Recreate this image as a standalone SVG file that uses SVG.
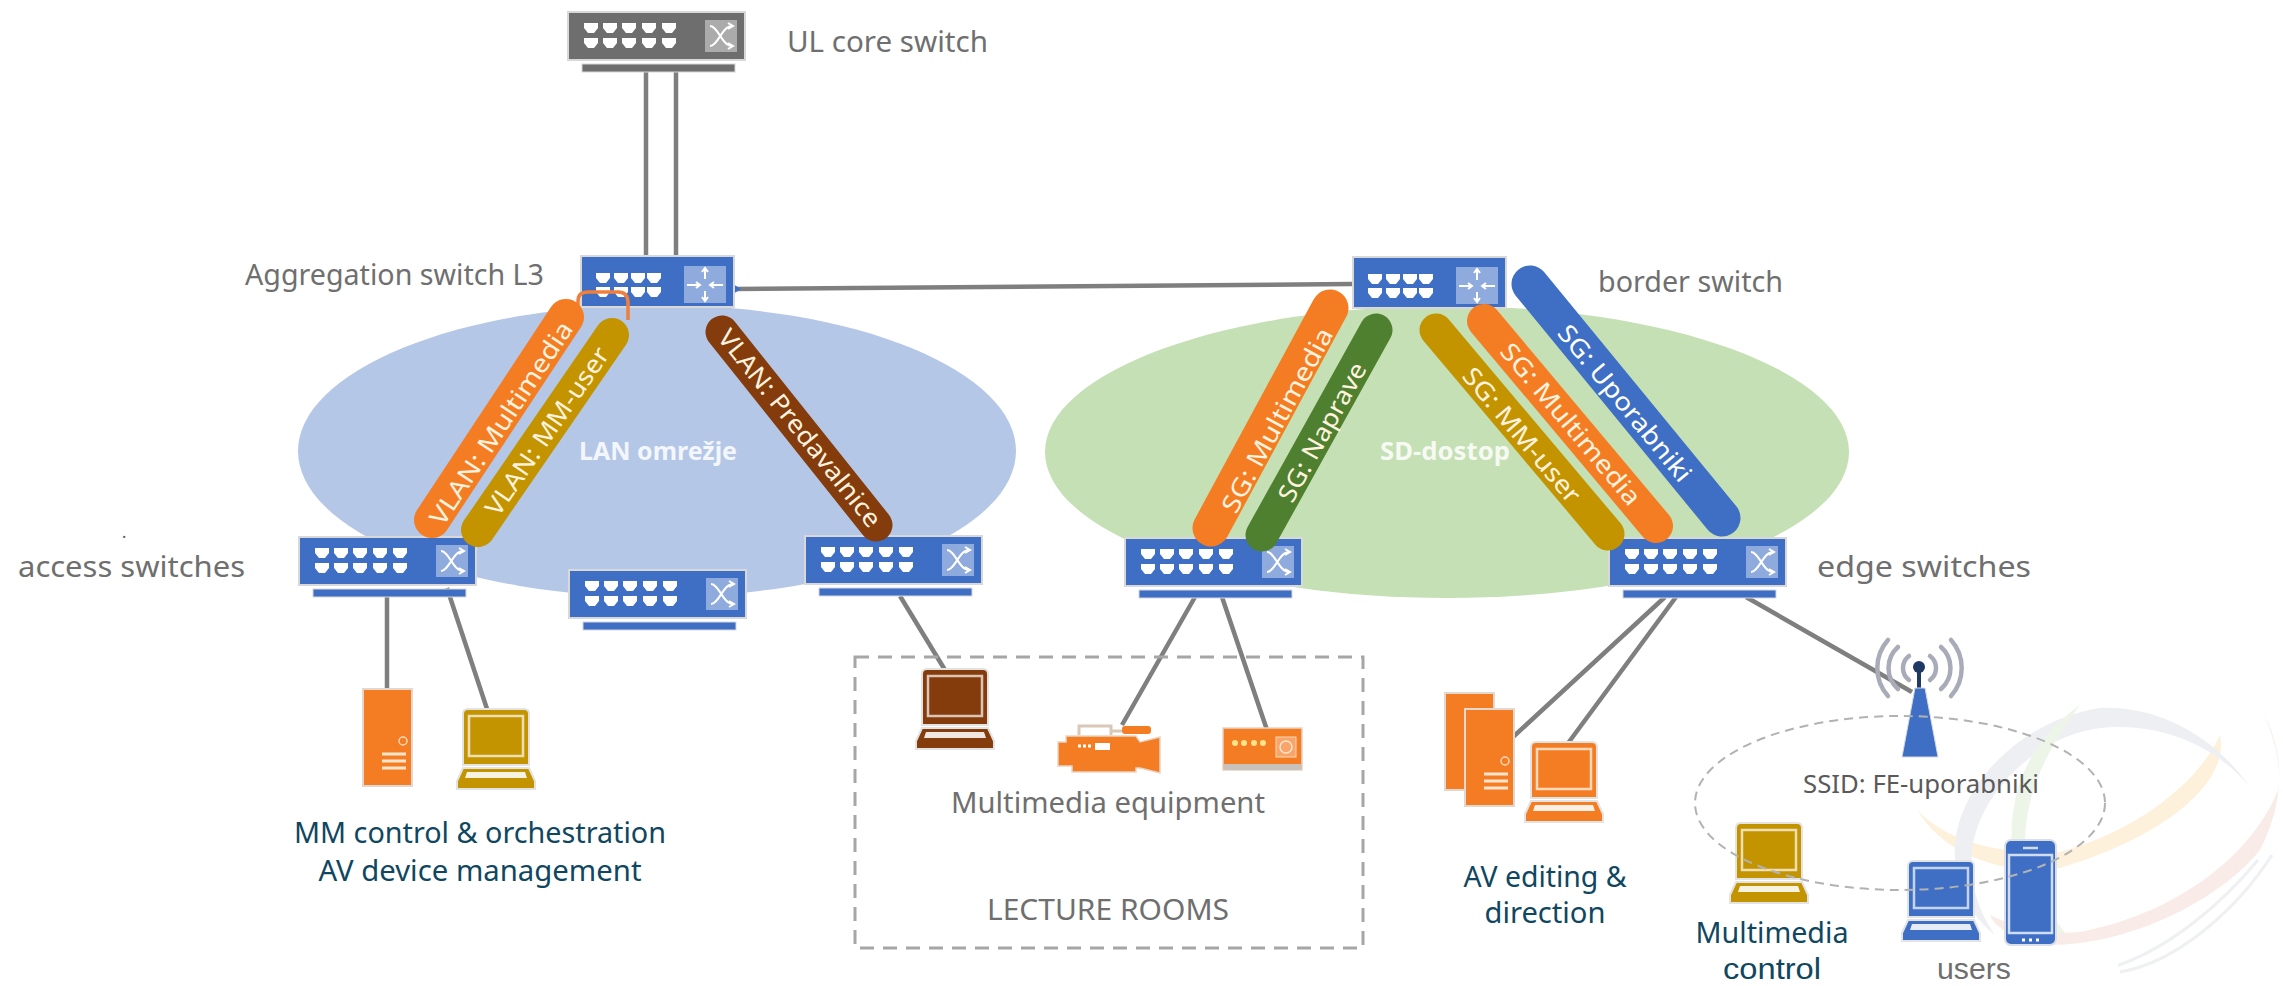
<svg xmlns="http://www.w3.org/2000/svg" xmlns:xlink="http://www.w3.org/1999/xlink" width="2283" height="986" viewBox="0 0 2283 986">
<style>
text{font-family:"Noto Sans","Liberation Sans",sans-serif}
.g{fill:#6f6f6f;font-size:29px}
.t{fill:#0f4761;font-size:29px}
.p{fill:#fff;font-size:25px;text-anchor:middle}
.c{fill:#fff3df;font-size:25px;text-anchor:middle}
.m{text-anchor:middle}
.low{font-family:"Liberation Sans",sans-serif}
.net{fill:#fff;font-size:25px;font-weight:700;text-anchor:middle;opacity:.85}
.link{stroke:#7f7f7f;stroke-width:4.5;fill:none}
.pill{fill:none;stroke-linecap:round}
.wave{stroke:#a9abb8;stroke-width:4.5;fill:none;stroke-linecap:round}
</style>
<defs>
<path id="port" d="M0 0h14v5l-4 5h-6l-4-5z" fill="#fff"/>
<g id="ports5"><use href="#port" x="16"/><use href="#port" x="35"/><use href="#port" x="54"/><use href="#port" x="74"/><use href="#port" x="94"/></g>
<g id="sw">
<rect x="14" y="52" width="153" height="8" fill="currentColor" stroke="#d8d8d8" stroke-width="1"/>
<rect width="177" height="48" fill="currentColor" stroke="#d8d8d8" stroke-width="2"/>
<use href="#ports5" y="11"/><use href="#ports5" y="26"/>
<rect x="137" y="8" width="32" height="32" fill="#fff" opacity=".42"/>
<path d="M142 14c8 0 12 20 22 20M142 34c8 0 12-20 22-20M160 11l5 3-5 3M160 31l5 3-5 3" fill="none" stroke="#fff" stroke-width="2"/>
</g>
<g id="rt">
<rect width="153" height="51" fill="#3f6fc4" stroke="#d8d8d8" stroke-width="2"/>
<g id="rp"><use href="#port" x="15" y="17"/><use href="#port" x="33" y="17"/><use href="#port" x="50" y="17"/><use href="#port" x="66" y="17"/>
<use href="#port" x="15" y="31"/><use href="#port" x="33" y="31"/><use href="#port" x="50" y="31"/><use href="#port" x="66" y="31"/></g>
<rect x="103" y="10" width="42" height="37" fill="#fff" opacity=".42"/>
<path d="M124 12v11M124 35v10M106 29h13M142 29h-13M121 16l3-4 3 4M121 41l3 4 3-4M115 26l4 3-4 3M133 26l-4 3 4 3" fill="none" stroke="#fff" stroke-width="2"/>
</g>
<g id="laptop">
<path d="M11 0h56q5 0 5 5v51H6V5q0-5 5-5z" fill="currentColor" stroke="#e3e3e3" stroke-width="2"/>
<rect x="12" y="7" width="54" height="40" fill="none" stroke="#fff" stroke-opacity=".7" stroke-width="2.5"/>
<path d="M6 59h66l6 13v8H0v-8z" fill="currentColor" stroke="#e3e3e3" stroke-width="2"/>
<path d="M10 63h58l2 6H8z" fill="#fff" opacity=".88"/>
</g>
<g id="server">
<rect width="49" height="97" fill="#f47d23" stroke="#e2d8d0" stroke-width="2"/>
<circle cx="40" cy="52" r="4" fill="none" stroke="#fbd9b8" stroke-width="1.5"/>
<path d="M19 65h24M19 72h24M19 79h24" stroke="#fde6d0" stroke-width="3"/>
</g>
</defs>
<rect width="2283" height="986" fill="#fff"/>
<g id="watermark">
<path d="M2220 735C2230 780 2170 835 2060 868C2000 875 1945 855 1917 810C1950 845 2010 855 2060 852C2140 830 2200 780 2220 735Z" fill="#fdf1dc"/>
<path d="M2250 787C2210 730 2150 705 2100 708C2020 720 1950 790 1955 860C1958 890 1970 915 1995 935C1975 905 1970 880 1972 850C1980 790 2040 735 2100 728C2160 722 2215 745 2250 787Z" fill="#eeeff3"/>
<path d="M2080 705C2030 740 2008 790 2012 850C2015 890 2040 925 2075 945C2050 915 2025 880 2025 845C2025 790 2050 745 2080 705Z" fill="#edf4e8"/>
<path d="M2262 710C2285 760 2285 800 2260 850C2220 900 2130 945 2050 945C2020 940 1995 930 1990 915C2020 930 2050 935 2080 932C2170 915 2250 860 2278 790C2282 760 2275 735 2262 710Z" fill="#f9ece8"/>
<path d="M2120 972C2180 962 2240 905 2272 855M2110 968C2170 950 2225 900 2258 860" fill="none" stroke="#eef0f2" stroke-width="3"/>
<rect x="1982" y="945" width="136" height="41" fill="#fff"/>
</g>
<g id="net-lan"><ellipse cx="657" cy="451" rx="359" ry="146" fill="#b4c7e7"/></g>
<g id="net-sd"><ellipse cx="1447" cy="452" rx="402" ry="146" fill="#c5e0b4"/></g>
<g id="connectors">
<path class="link" d="M646 71V256M676 71V256"/>
<path class="link" d="M734 289L1352 284"/>
<path d="M733 284l8 5-8 5z" fill="#3f6fc4"/>
<path class="link" d="M387 596V690M447 588L490 718"/>
<path class="link" d="M900 596L945 670"/>
<path class="link" d="M1195 597L1122 725M1222 597L1267 730"/>
<path class="link" d="M1665 597L1513 737M1676 597L1563 750M1746 597L1912 692"/>
</g>
<g id="core-switch"><use href="#sw" x="568" y="12" color="#6e6e6e"/></g>
<g id="agg-switch"><use href="#rt" x="581" y="256"/></g>
<g id="border-switch"><use href="#rt" x="1353" y="257"/></g>
<g id="access-1"><use href="#sw" x="299" y="537" color="#3f6fc4"/></g>
<g id="access-2"><use href="#sw" x="569" y="570" color="#3f6fc4"/></g>
<g id="access-3"><use href="#sw" x="805" y="536" color="#3f6fc4"/></g>
<g id="edge-1"><use href="#sw" x="1125" y="538" color="#3f6fc4"/></g>
<g id="edge-2"><use href="#sw" x="1609" y="538" color="#3f6fc4"/></g>
<g id="lan-loop"><path d="M578 307v-6q0-9 10-9h30q10 0 10 11v17" fill="none" stroke="#ef7f3d" stroke-width="3.5"/></g>
<g id="vlan-segments">
<path class="pill" d="M566 317L432 520" stroke="#f47d23" stroke-width="36"/>
<path class="pill" d="M612 335L478 530" stroke="#c39400" stroke-width="34"/>
<path class="pill" d="M722 332L876 525" stroke="#843c0c" stroke-width="33"/>
<text class="c" transform="translate(501 423) rotate(-56.6)" y="9" textLength="238" lengthAdjust="spacingAndGlyphs">VLAN: Multimedia</text>
<text class="c" transform="translate(547 431) rotate(-55.5)" y="9" textLength="198" lengthAdjust="spacingAndGlyphs">VLAN: MM-user</text>
<text class="c" transform="translate(800 428) rotate(51.4)" y="9" textLength="245" lengthAdjust="spacingAndGlyphs">VLAN: Predavalnice</text>
</g>
<g id="sg-segments">
<path class="pill" d="M1330 308L1211 528" stroke="#f47d23" stroke-width="37"/>
<path class="pill" d="M1376 330L1262 535" stroke="#4f8030" stroke-width="33"/>
<path class="pill" d="M1436 330L1608 534" stroke="#c39400" stroke-width="33"/>
<path class="pill" d="M1484 321L1656 526" stroke="#f47d23" stroke-width="34"/>
<path class="pill" d="M1530 284L1722 518" stroke="#3f6fc4" stroke-width="37"/>
<text class="c" transform="translate(1277 420) rotate(-61.6)" y="9" textLength="206" lengthAdjust="spacingAndGlyphs">SG: Multimedia</text>
<text class="c" transform="translate(1322 432) rotate(-61)" y="9" textLength="155" lengthAdjust="spacingAndGlyphs">SG: Naprave</text>
<text class="c" transform="translate(1522 435) rotate(49.9)" y="9" textLength="168" lengthAdjust="spacingAndGlyphs">SG: MM-user</text>
<text class="c" transform="translate(1571 424) rotate(50)" y="9" textLength="203" lengthAdjust="spacingAndGlyphs">SG: Multimedia</text>
<text class="p" transform="translate(1625 403) rotate(50.6)" y="9" textLength="195" lengthAdjust="spacingAndGlyphs">SG: Uporabniki</text>
</g>
<text class="net" x="658" y="460" textLength="158" lengthAdjust="spacingAndGlyphs">LAN omrežje</text>
<text class="net" x="1445" y="460" textLength="130" lengthAdjust="spacingAndGlyphs">SD-dostop</text>
<g id="server-control"><use href="#server" x="363" y="689"/></g>
<g id="laptop-control"><use href="#laptop" x="457" y="709" color="#c39400"/></g>
<g id="laptop-room"><use href="#laptop" x="916" y="669" color="#843c0c"/></g>
<g id="camera">
<path d="M1079 735v-9h32v9M1111 731h11" fill="none" stroke="#d9c8b8" stroke-width="3"/>
<rect x="1122" y="726" width="29" height="8" rx="3" fill="#f47d23"/>
<path d="M1066 736h70l4 6 20-5v36l-20-5-4 0v4h-64v-6h-14v-24h8z" fill="#f47d23" stroke="#e8d5c4" stroke-width="1.5"/>
<rect x="1095" y="743" width="15" height="7" fill="#fff"/>
<path d="M1078 746h13" stroke="#fff" stroke-width="3" stroke-dasharray="3 2"/>
</g>
<g id="encoder">
<rect x="1223" y="728" width="79" height="42" fill="#f47d23" stroke="#e5d5c8" stroke-width="1.5"/>
<rect x="1224" y="764" width="77" height="6" fill="#c9c2bb"/>
<circle cx="1235" cy="743" r="3" fill="#ffe58a"/><circle cx="1244" cy="743" r="3" fill="#ffe58a"/><circle cx="1254" cy="743" r="3" fill="#ffe58a"/><circle cx="1263" cy="743" r="3" fill="#ffe58a"/>
<rect x="1276" y="737" width="20" height="20" fill="#f9a468" stroke="#fbd9b8"/>
<circle cx="1286" cy="747" r="6" fill="none" stroke="#fde6d0" stroke-width="1.5"/>
</g>
<g id="server-edit"><use href="#server" x="1445" y="693"/><use href="#server" x="1465" y="709"/></g>
<g id="laptop-edit"><use href="#laptop" x="1525" y="742" color="#f47d23"/></g>
<g id="laptop-mm"><use href="#laptop" x="1730" y="823" color="#c39400"/></g>
<g id="laptop-user"><use href="#laptop" x="1902" y="861" color="#3f6fc4"/></g>
<g id="phone">
<rect x="2005" y="840" width="51" height="105" rx="6" fill="#3f6fc4" stroke="#dcdfe6" stroke-width="2"/>
<rect x="2009" y="855" width="43" height="78" fill="none" stroke="#cfdcf3" stroke-width="2.5"/>
<path d="M2023 848h15" stroke="#cfdcf3" stroke-width="2.5"/>
<path d="M2022 940h3M2029 940h3M2036 940h3" stroke="#fff" stroke-width="3"/>
</g>
<g id="antenna">
<path class="wave" d="M1909 656a15 15 0 0 0 0 24M1898 647a28 28 0 0 0 0 42M1888 640a42 42 0 0 0 0 56M1930 656a15 15 0 0 1 0 24M1941 647a28 28 0 0 1 0 42M1951 640a42 42 0 0 1 0 56"/>
<path d="M1919 667v22" stroke="#1f3864" stroke-width="4"/>
<circle cx="1919" cy="667" r="6" fill="#1f3864"/>
<path d="M1915 688h10l13 69h-36z" fill="#3f6fc4" stroke="#d5d9e2"/>
</g>
<g id="ssid"><ellipse cx="1900" cy="803" rx="205" ry="87" fill="none" stroke="#b2b2b2" stroke-width="2" stroke-dasharray="9 6"/></g>
<g id="room"><rect x="855" y="657" width="508" height="291" fill="none" stroke="#a6a6a6" stroke-width="3" stroke-dasharray="14 9"/></g>
<g id="labels">
<text class="g" x="787" y="52" textLength="201" lengthAdjust="spacingAndGlyphs">UL core switch</text>
<text class="g" x="245" y="285" textLength="299" lengthAdjust="spacingAndGlyphs">Aggregation switch L3</text>
<text class="g" x="1598" y="292" textLength="185" lengthAdjust="spacingAndGlyphs">border switch</text>
<text x="122" y="538" font-size="16" fill="#555">.</text>
<text class="g" x="18" y="577" textLength="227" lengthAdjust="spacingAndGlyphs">access switches</text>
<text class="g" x="1817" y="577" textLength="214" lengthAdjust="spacingAndGlyphs">edge switches</text>
<text class="g" x="951" y="813" textLength="314" lengthAdjust="spacingAndGlyphs">Multimedia equipment</text>
<text class="g" x="987" y="920" textLength="242" lengthAdjust="spacingAndGlyphs">LECTURE ROOMS</text>
<text class="t m" x="480" y="843" textLength="372" lengthAdjust="spacingAndGlyphs">MM control &amp; orchestration</text>
<text class="t m" x="480" y="881" textLength="323" lengthAdjust="spacingAndGlyphs">AV device management</text>
<text class="t m" x="1545" y="887" textLength="163" lengthAdjust="spacingAndGlyphs">AV editing &amp;</text>
<text class="t m" x="1545" y="923" textLength="121" lengthAdjust="spacingAndGlyphs">direction</text>
<text class="t m" x="1772" y="943" textLength="153" lengthAdjust="spacingAndGlyphs">Multimedia</text>
<text class="t m low" x="1772" y="979" textLength="98" lengthAdjust="spacingAndGlyphs">control</text>
<text class="g low" x="1937" y="979" textLength="74" lengthAdjust="spacingAndGlyphs">users</text>
<text x="1803" y="793" font-size="25" fill="#5a5a5a" textLength="236" lengthAdjust="spacingAndGlyphs">SSID: FE-uporabniki</text>
</g>
</svg>
